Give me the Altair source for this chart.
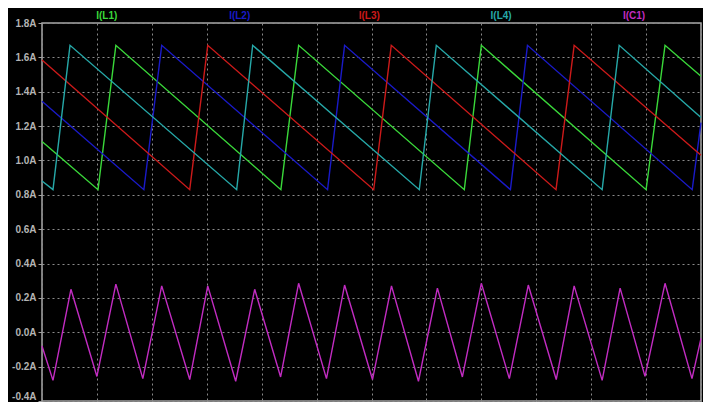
import altair as alt
import pandas as pd

# vertices (x in grid divisions, y in amperes)
l1_x = [0, 1.02, 1.345, 4.35, 4.673, 7.69, 8.0, 11.0, 11.345, 12]
l1_y = [1.11, 0.83, 1.67, 0.83, 1.67, 0.83, 1.67, 0.83, 1.67, 1.49]
l2_x = [0, 1.855, 2.18, 5.2, 5.51, 8.53, 8.84, 11.84, 12]
l2_y = [1.345, 0.83, 1.67, 0.83, 1.67, 0.83, 1.67, 0.83, 1.22]
l3_x = [0, 2.69, 3.018, 6.04, 6.36, 9.36, 9.69, 12]
l3_y = [1.585, 0.83, 1.67, 0.83, 1.67, 0.83, 1.67, 1.03]
l4_x = [0, 0.2, 0.51, 3.545, 3.836, 6.87, 7.18, 10.2, 10.51, 12]
l4_y = [0.88, 0.83, 1.67, 0.83, 1.67, 0.83, 1.67, 0.83, 1.67, 1.25]
c1_x = [0, 0.2, 0.527, 1.0, 1.345, 1.836, 2.18, 2.69, 3.018, 3.527, 3.873,
        4.345, 4.673, 5.18, 5.51, 6.018, 6.364, 6.855, 7.2, 7.655, 8.0,
        8.51, 8.855, 9.364, 9.69, 10.2, 10.527, 10.98, 11.345, 11.836, 12]
c1_y = [-0.08, -0.28, 0.25, -0.257, 0.28, -0.27, 0.27, -0.275, 0.27, -0.285, 0.25,
        -0.26, 0.285, -0.27, 0.275, -0.275, 0.27, -0.285, 0.257, -0.26, 0.285,
        -0.27, 0.275, -0.275, 0.27, -0.28, 0.257, -0.257, 0.285, -0.27, -0.035]

names = ["I(L1)", "I(L2)", "I(L3)", "I(L4)", "I(C1)"]
colors = ["#3ad83a", "#1a1ac8", "#cc1a1a", "#26a8a8", "#c22cc2"]
label_x = [1.18, 3.6, 5.96, 8.36, 10.78]

rows = []
for name, xs, ys in zip(names, [l1_x, l2_x, l3_x, l4_x, c1_x], [l1_y, l2_y, l3_y, l4_y, c1_y]):
    for i, (x, y) in enumerate(zip(xs, ys)):
        rows.append({"trace": name, "t": x, "i": y, "k": i})
df = pd.DataFrame(rows)
labels = pd.DataFrame({"trace": names, "t": label_x})

xscale = alt.Scale(domain=[0, 12], nice=False, zero=False)
yscale = alt.Scale(domain=[-0.4, 1.8], nice=False, zero=False)
cscale = alt.Scale(domain=names, range=colors)

lines = alt.Chart(df).mark_line(strokeWidth=1.4).encode(
    x=alt.X("t:Q", scale=xscale,
            axis=alt.Axis(values=list(range(13)), labels=False, title=None,
                          grid=True, gridColor="#8a8a8a", gridDash=[2, 3], gridWidth=1,
                          domain=False, tickColor="#a0a0a0", tickSize=4)),
    y=alt.Y("i:Q", scale=yscale,
            axis=alt.Axis(values=[-0.4, -0.2, 0, 0.2, 0.4, 0.6, 0.8, 1.0, 1.2, 1.4, 1.6, 1.8],
                          labelExpr="(datum.value < -0.001 ? '-' : '') + format(abs(datum.value), '.1f') + 'A'",
                          title=None, grid=True, gridColor="#8a8a8a", gridDash=[2, 3], gridWidth=1,
                          domain=False, tickColor="#a0a0a0", tickSize=4,
                          labelColor="#b4b4b4", labelFont="Liberation Sans", labelFontSize=10,
                          labelFontWeight="bold", labelPadding=2, labelBaseline="middle",
                          labelOffset={"condition": {"test": "datum.value < -0.3", "value": -5},
                                       "value": 0})),
    color=alt.Color("trace:N", scale=cscale, legend=None),
    order="k:Q",
    detail="trace:N",
)

texts = alt.Chart(labels).mark_text(
    font="Liberation Sans", fontSize=10, fontWeight="bold", baseline="middle", align="center"
).encode(
    x=alt.X("t:Q", scale=xscale),
    y=alt.value(-7),
    text="trace:N",
    color=alt.Color("trace:N", scale=cscale, legend=None),
)

chart = alt.layer(lines, texts).properties(
    width=659, height=378,
    autosize=alt.AutoSizeParams(type="none"),
    padding={"left": 34, "top": 15, "right": 2, "bottom": 1},
    background="#000000",
).configure_view(stroke="#a8a8a8", strokeWidth=1.5, fill="#000000")

chart.save("out.html", embed_options={"renderer": "svg", "actions": False})
